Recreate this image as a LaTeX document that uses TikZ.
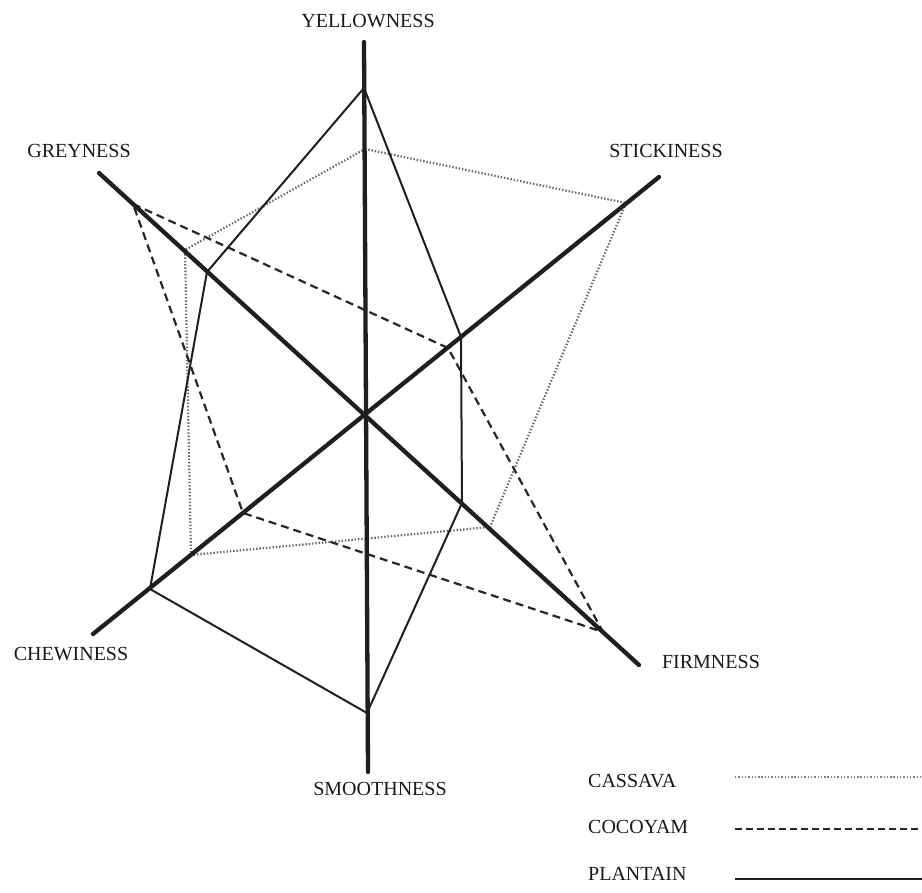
\documentclass[tikz,border=0pt]{standalone}
\usepackage{fontspec}
\setmainfont{Liberation Serif}
\begin{document}
\begin{tikzpicture}[x=1pt,y=-1pt,
  axis/.style={line width=4.3pt, line cap=round, black!88},
  plantain/.style={line width=2pt, black!88, line join=miter},
  cocoyam/.style={line width=2.2pt, black!85, dash pattern=on 8pt off 5pt},
  cassava/.style={line width=2.2pt, black!60, dash pattern=on 1.4pt off 1.9pt},
  lbl/.style={font=\fontsize{20}{20}\selectfont, text=black!90, inner sep=0pt}]
\useasboundingbox (0,0) rectangle (922,893);
% axis ends
\coordinate (O) at (366,415);
\coordinate (Y) at (364,42);
\coordinate (S) at (368,772);
\coordinate (G) at (99,173);
\coordinate (F) at (639,665);
\coordinate (K) at (659,177);
\coordinate (C) at (93,634);
% plantain points
\coordinate (pY) at (364,88);
\coordinate (pK) at (461,337);
\coordinate (pF) at (462,503);
\coordinate (pS) at (367,713);
\coordinate (pC) at (150,589);
\coordinate (pG) at (207,272);
% cocoyam points
\coordinate (cG) at (133,204);
\coordinate (cK) at (448,348);
\coordinate (cF) at (603,632);
\coordinate (cC) at (243,513);
% cassava points
\coordinate (sY) at (365,149);
\coordinate (sK) at (626,203);
\coordinate (sF) at (490,527);
\coordinate (sC) at (191,555);
\coordinate (sG) at (185,250);
% data polygons
\draw[cassava] (sY) -- (sK) -- (sF) -- (sC) -- (sG) -- cycle;
\draw[cocoyam] (cG) -- (cK) -- (cF) -- (cC) -- cycle;
\draw[plantain] (pY) -- (pK) -- (pF) -- (pS) -- (pC) -- (pG) -- cycle;
% axes
\draw[axis] (Y) -- (S);
\draw[axis] (G) -- (F);
\draw[axis] (K) -- (C);
% labels
\node[lbl, anchor=base] (tY) at (368,28) {YELLOWNESS};
\node[lbl, anchor=base] (tG) at (79,158) {GREYNESS};
\node[lbl, anchor=base] (tK) at (666,158) {STICKINESS};
\node[lbl, anchor=base] (tC) at (71,660) {CHEWINESS};
\node[lbl, anchor=base] (tF) at (711,668) {FIRMNESS};
\node[lbl, anchor=base] (tS) at (380,795) {SMOOTHNESS};
% legend
\node[lbl, anchor=base west] (l1) at (588,787) {CASSAVA};
\node[lbl, anchor=base west] (l2) at (588,833) {COCOYAM};
\node[lbl, anchor=base west] (l3) at (588,880) {PLANTAIN};
\coordinate (l1a) at (735,777); \coordinate (l1b) at (922,777);
\coordinate (l2a) at (735,829); \coordinate (l2b) at (922,829);
\coordinate (l3a) at (735,879); \coordinate (l3b) at (922,879);
\draw[cassava, line width=1.6pt, black!50] (l1a) -- (l1b);
\draw[cocoyam, dash pattern=on 7pt off 4pt] (l2a) -- (l2b);
\draw[plantain, line width=2.4pt] (l3a) -- (l3b);
\end{tikzpicture}
\end{document}
